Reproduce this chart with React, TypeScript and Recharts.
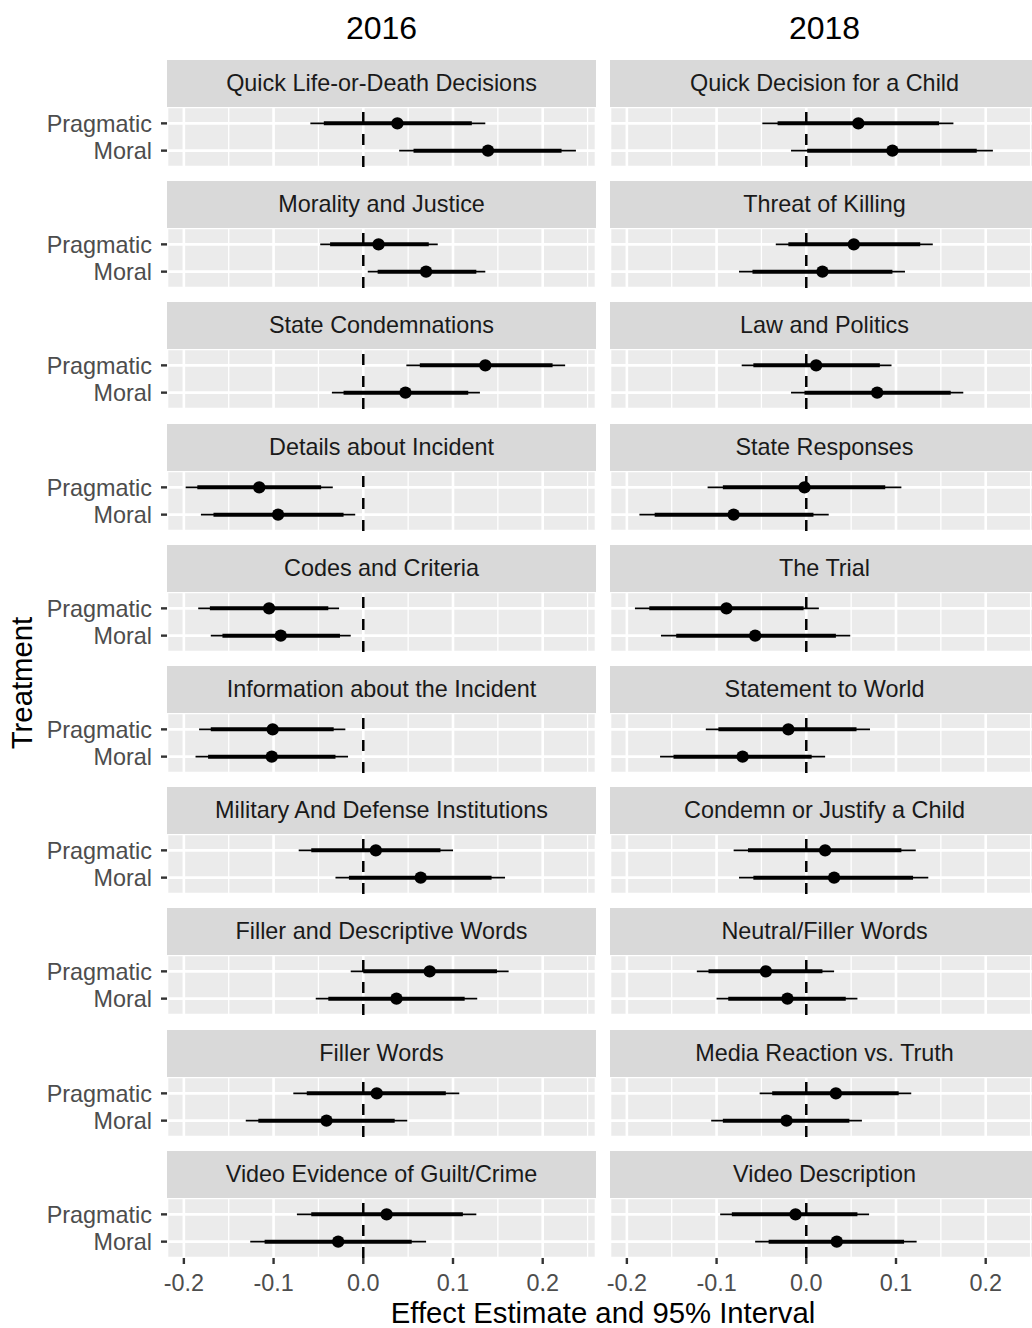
import React from 'react';
import { ComposedChart, Scatter, XAxis, YAxis, CartesianGrid, ReferenceLine, ErrorBar } from 'recharts';

// ---------- data ----------
const YEARS = ['2016', '2018'];

const TOPICS_2016 = [
  'Quick Life-or-Death Decisions',
  'Morality and Justice',
  'State Condemnations',
  'Details about Incident',
  'Codes and Criteria',
  'Information about the Incident',
  'Military And Defense Institutions',
  'Filler and Descriptive Words',
  'Filler Words',
  'Video Evidence of Guilt/Crime',
];

const TOPICS_2018 = [
  'Quick Decision for a Child',
  'Threat of Killing',
  'Law and Politics',
  'State Responses',
  'The Trial',
  'Statement to World',
  'Condemn or Justify a Child',
  'Neutral/Filler Words',
  'Media Reaction vs. Truth',
  'Video Description',
];

const TREATMENTS = ['Pragmatic', 'Moral'];
const TREATMENT_POS = [2, 1];

// [low95, lowInner, estimate, highInner, high95]
type Interval = [number, number, number, number, number];

const I2016_PRAGMATIC: Interval[] = [
  [-0.059, -0.044, 0.038, 0.121, 0.136],
  [-0.048, -0.037, 0.017, 0.073, 0.083],
  [0.048, 0.063, 0.136, 0.211, 0.225],
  [-0.198, -0.185, -0.116, -0.047, -0.034],
  [-0.184, -0.171, -0.105, -0.039, -0.027],
  [-0.183, -0.17, -0.101, -0.033, -0.02],
  [-0.072, -0.058, 0.014, 0.086, 0.1],
  [-0.014, 0.0, 0.074, 0.149, 0.162],
  [-0.078, -0.063, 0.015, 0.092, 0.107],
  [-0.074, -0.058, 0.026, 0.111, 0.126],
];

const I2016_MORAL: Interval[] = [
  [0.04, 0.056, 0.139, 0.221, 0.237],
  [0.005, 0.016, 0.07, 0.126, 0.136],
  [-0.035, -0.022, 0.047, 0.117, 0.13],
  [-0.181, -0.167, -0.095, -0.022, -0.009],
  [-0.17, -0.157, -0.092, -0.026, -0.014],
  [-0.187, -0.173, -0.102, -0.031, -0.017],
  [-0.031, -0.016, 0.064, 0.143, 0.158],
  [-0.053, -0.039, 0.037, 0.113, 0.127],
  [-0.131, -0.117, -0.041, 0.035, 0.049],
  [-0.126, -0.11, -0.028, 0.054, 0.07],
];

const I2018_PRAGMATIC: Interval[] = [
  [-0.049, -0.032, 0.058, 0.148, 0.164],
  [-0.034, -0.02, 0.053, 0.127, 0.141],
  [-0.072, -0.059, 0.011, 0.082, 0.095],
  [-0.11, -0.093, -0.002, 0.088, 0.106],
  [-0.191, -0.175, -0.089, -0.003, 0.014],
  [-0.112, -0.098, -0.02, 0.056, 0.071],
  [-0.081, -0.065, 0.021, 0.106, 0.122],
  [-0.122, -0.109, -0.045, 0.018, 0.031],
  [-0.052, -0.038, 0.033, 0.103, 0.117],
  [-0.096, -0.083, -0.012, 0.057, 0.07],
];

const I2018_MORAL: Interval[] = [
  [-0.017, 0.001, 0.096, 0.19, 0.208],
  [-0.075, -0.06, 0.018, 0.096, 0.11],
  [-0.017, -0.002, 0.079, 0.161, 0.175],
  [-0.186, -0.169, -0.081, 0.008, 0.025],
  [-0.162, -0.145, -0.057, 0.033, 0.049],
  [-0.163, -0.148, -0.071, 0.006, 0.021],
  [-0.075, -0.059, 0.031, 0.119, 0.136],
  [-0.1, -0.087, -0.021, 0.044, 0.057],
  [-0.106, -0.093, -0.022, 0.048, 0.062],
  [-0.057, -0.042, 0.034, 0.109, 0.123],
];

const X_MAJOR_TICKS = [-0.2, -0.1, 0, 0.1, 0.2];
const X_TICK_LABELS = ['-0.2', '-0.1', '0.0', '0.1', '0.2'];
const X_MINOR_TICKS = [-0.15, -0.05, 0.05, 0.15, 0.25];
const X_DOMAIN: [number, number] = [-0.2188, 0.2594];
const Y_DOMAIN: [number, number] = [0.4, 2.6];

const X_TITLE = 'Effect Estimate and 95% Interval';
const Y_TITLE = 'Treatment';

// ---------- layout / style ----------
const FONT = '"Liberation Sans", Arial, Helvetica, sans-serif';
const Y_AXIS_W = 167;
const RIGHT_PAD = 30;
const PANEL_LEFT = [167, 610];
const PANEL_W = 429;
const STRIP_H = 47;
const PANEL_H = 60;
const ROW0 = 60;
const ROW_STEP = 121.2;
const X_AXIS_H = 70;

const Dot = (props: any) => {
  const { cx, cy } = props;
  if (cx == null || cy == null) return null;
  return <circle cx={cx} cy={cy} r={6.2} fill="#000" />;
};

function buildRows(prag: Interval, moral: Interval) {
  return [prag, moral].map((iv, t) => ({
    treatment: TREATMENTS[t],
    y: TREATMENT_POS[t],
    est: iv[2],
    thin: [iv[2] - iv[0], iv[4] - iv[2]],
    thick: [iv[2] - iv[1], iv[3] - iv[2]],
  }));
}

function Panel({ rows, showX, showY }: { rows: any[]; showX: boolean; showY: boolean }) {
  const leftSpace = showY ? Y_AXIS_W : RIGHT_PAD;
  const width = leftSpace + PANEL_W;
  const height = PANEL_H + (showX ? X_AXIS_H : 0);
  return (
    <ComposedChart
      width={width}
      height={height}
      margin={{ top: 0, right: 0, bottom: 0, left: showY ? 0 : RIGHT_PAD }}
    >
      <XAxis
        xAxisId="minor"
        type="number"
        dataKey="est"
        domain={X_DOMAIN}
        ticks={X_MINOR_TICKS}
        allowDataOverflow
        hide
      />
      <XAxis
        xAxisId="major"
        type="number"
        dataKey="est"
        domain={X_DOMAIN}
        ticks={X_MAJOR_TICKS}
        interval={0}
        allowDataOverflow
        hide={!showX}
        height={X_AXIS_H}
        axisLine={false}
        tickSize={6}
        tickMargin={10}
        tickLine={{ stroke: '#333333', strokeWidth: 2.4 }}
        tick={{ fill: '#4D4D4D', fontSize: 23.4, fontFamily: FONT }}
        tickFormatter={(v: number) => X_TICK_LABELS[X_MAJOR_TICKS.indexOf(v)] ?? String(v)}
      />
      <YAxis
        type="number"
        dataKey="y"
        domain={Y_DOMAIN}
        ticks={[1, 2]}
        interval={0}
        allowDataOverflow
        hide={!showY}
        width={Y_AXIS_W}
        axisLine={false}
        tickSize={6}
        tickMargin={9}
        tickLine={{ stroke: '#333333', strokeWidth: 2.4 }}
        tick={{ fill: '#4D4D4D', fontSize: 23.4, fontFamily: FONT }}
        tickFormatter={(v: number) => TREATMENTS[TREATMENT_POS.indexOf(v)] ?? ''}
      />
      <CartesianGrid xAxisId="minor" horizontal={false} fill="#EBEBEB" fillOpacity={1} stroke="#FFFFFF" strokeWidth={1.3} />
      <CartesianGrid xAxisId="major" stroke="#FFFFFF" strokeWidth={2.6} />
      <ReferenceLine xAxisId="major" x={0} stroke="#000000" strokeWidth={2.5} strokeDasharray="11 11" />
      <Scatter xAxisId="major" data={rows} dataKey="y" shape={<Dot />} isAnimationActive={false}>
        <ErrorBar dataKey="thin" direction="x" width={0} stroke="#000000" strokeWidth={1.6} />
        <ErrorBar dataKey="thick" direction="x" width={0} stroke="#000000" strokeWidth={4} />
      </Scatter>
    </ComposedChart>
  );
}

export default function App() {
  const cols = [
    { topics: TOPICS_2016, prag: I2016_PRAGMATIC, moral: I2016_MORAL },
    { topics: TOPICS_2018, prag: I2018_PRAGMATIC, moral: I2018_MORAL },
  ];
  return (
    <div
      style={{
        position: 'absolute',
        left: 0,
        top: 0,
        width: 1032,
        height: 1328,
        overflow: 'hidden',
        background: '#FFFFFF',
        fontFamily: FONT,
      }}
    >
      {YEARS.map((yr, c) => (
        <div
          key={yr}
          style={{
            position: 'absolute',
            left: PANEL_LEFT[c],
            width: PANEL_W,
            top: 8,
            height: 40,
            lineHeight: '40px',
            textAlign: 'center',
            fontSize: 32,
            color: '#000',
          }}
        >
          {yr}
        </div>
      ))}
      {cols.map((col, c) =>
        col.topics.map((topic, r) => {
          const top = Math.round(ROW0 + r * ROW_STEP);
          const isBottom = r === col.topics.length - 1;
          const rows = buildRows(col.prag[r], col.moral[r]);
          return (
            <React.Fragment key={`${c}-${r}`}>
              <div
                style={{
                  position: 'absolute',
                  left: PANEL_LEFT[c],
                  top,
                  width: PANEL_W,
                  height: STRIP_H,
                  lineHeight: `${STRIP_H}px`,
                  background: '#D9D9D9',
                  color: '#1A1A1A',
                  fontSize: 23.4,
                  textAlign: 'center',
                  whiteSpace: 'nowrap',
                }}
              >
                {topic}
              </div>
              <div
                style={{
                  position: 'absolute',
                  left: c === 0 ? 0 : PANEL_LEFT[1] - RIGHT_PAD,
                  top: top + STRIP_H,
                }}
              >
                <Panel rows={rows} showX={isBottom} showY={c === 0} />
              </div>
            </React.Fragment>
          );
        })
      )}
      <div
        style={{
          position: 'absolute',
          left: PANEL_LEFT[0],
          width: PANEL_LEFT[1] + PANEL_W - PANEL_LEFT[0],
          top: 1296,
          height: 34,
          lineHeight: '34px',
          textAlign: 'center',
          fontSize: 29.3,
          color: '#000',
          whiteSpace: 'nowrap',
        }}
      >
        {X_TITLE}
      </div>
      <div
        style={{
          position: 'absolute',
          left: 21.5 - 100,
          top: 682.5 - 17,
          width: 200,
          height: 34,
          lineHeight: '34px',
          textAlign: 'center',
          fontSize: 29.3,
          color: '#000',
          transform: 'rotate(-90deg)',
          whiteSpace: 'nowrap',
        }}
      >
        {Y_TITLE}
      </div>
    </div>
  );
}
